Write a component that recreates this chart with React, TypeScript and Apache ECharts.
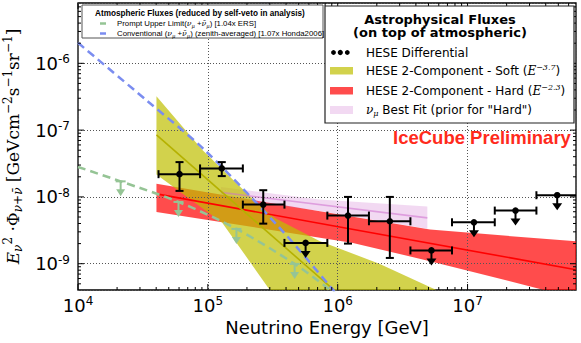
import React, { useEffect, useRef } from 'react';
import * as echarts from 'echarts';

// ---------- axis ranges & ticks ----------
const X_MIN = 1e4;
const X_MAX = 6.84e7;
const Y_MIN = 4.04e-10;
const Y_MAX = 8.0e-6;

const xDecadeTicks = [1e4, 1e5, 1e6, 1e7];
const xDecadeExp = ['4', '5', '6', '7'];
const yDecadeTicks = [1e-9, 1e-8, 1e-7, 1e-6];
const yDecadeExp = ['-9', '-8', '-7', '-6'];

// ---------- HESE differential points ----------
const binLow = [4.17e4, 8.71e4, 1.86e5, 3.89e5, 8.32e5, 1.74e6, 3.63e6, 7.59e6, 1.62e7, 3.39e7];
const binHigh = [8.71e4, 1.86e5, 3.89e5, 8.32e5, 1.74e6, 3.63e6, 7.59e6, 1.62e7, 3.39e7, 7.08e7];
const binCenter = [6.05e4, 1.28e5, 2.67e5, 5.66e5, 1.2e6, 2.52e6, 5.27e6, 1.12e7, 2.34e7, 4.9e7];
const flux = [2.19e-8, 2.67e-8, 7.67e-9, 2.05e-9, 5.25e-9, 4.32e-9, 1.58e-9, 4.17e-9, 6.24e-9, 1.06e-8];
const fluxHigh = [3.32e-8, 3.32e-8, 1.26e-8, null, 1.0e-8, 1.0e-8, null, null, null, null];
const fluxLow = [1.23e-8, 2.05e-8, 3.98e-9, null, 2.0e-9, 1.22e-9, null, null, null, null];
const isUpperLimit = [false, false, false, true, false, false, true, true, true, true];

// ---------- HESE 2-component soft (yellow) ----------
const softUpper = [[4.02e4, 3.21e-7], [9.12e4, 5.01e-8], [2.24e5, 9.12e-9], [3.31e5, 4.79e-9], [7.24e5, 2.19e-9], [2.09e6, 1.0e-9], [6.31e6, 3.72e-10], [1.26e7, 2.0e-10]];
const softLower = [[4.02e4, 2.16e-8], [1.29e5, 4.12e-9], [2.99e5, 4.07e-10], [3.98e5, 1.78e-10]];
const softBest = [[4.02e4, 8.51e-8], [1.0e6, 3.6e-10]];

// ---------- HESE 2-component hard (red) ----------
const hardUpper = [[4.02e4, 1.57e-8], [7.29e5, 6.08e-9], [5.14e6, 3.24e-9], [6.84e7, 2.16e-9]];
const hardLower = [[4.02e4, 5.97e-9], [1.31e6, 2.05e-9], [5.14e6, 1.09e-9], [3.81e7, 4.09e-10], [6.84e7, 3.16e-10]];
const hardBest = [[4.02e4, 1.11e-8], [6.84e7, 8.13e-10]];

// ---------- numu best fit (pink) ----------
const numuUpper = [[1.26e5, 1.41e-8], [7.24e5, 9.12e-9], [4.9e6, 7.16e-9]];
const numuLower = [[1.26e5, 9.55e-9], [7.24e5, 6.17e-9], [4.9e6, 3.35e-9]];
const numuBest = [[1.26e5, 1.17e-8], [4.9e6, 4.85e-9]];

// ---------- atmospheric ----------
const conventional = [[1.0e4, 2.03e-6], [3.35e4, 2.82e-7], [9.38e4, 5.1e-8], [3.57e5, 3.44e-9], [8.93e5, 4.35e-10], [1.26e6, 1.9e-10]];
const prompt = [[1.0e4, 2.81e-8], [2.13e4, 1.71e-8], [5.94e4, 8.41e-9], [1.66e5, 3.32e-9], [4.66e5, 9.93e-10], [8.67e5, 4.09e-10], [1.26e6, 2.24e-10]];
const promptLimitMarks = [[2.13e4, 1.71e-8], [5.94e4, 8.41e-9], [1.66e5, 3.32e-9], [4.66e5, 9.93e-10]];

// ---------- colours ----------
const YELLOW = 'rgba(191,191,0,0.7)';
const RED = 'rgba(255,0,0,0.7)';
const PINK = 'rgba(204,102,204,0.25)';
const GREEN = '#95c495';
const BLUE = '#7b8df0';

function minorTicks(lo: number, hi: number, k0: number, k1: number) {
  const out: number[] = [];
  for (let k = k0; k <= k1; k++) {
    for (let m = 1; m <= 9; m++) {
      const v = m * Math.pow(10, k);
      if (v > lo * 1.0001 && v < hi * 0.9999) out.push(v);
    }
  }
  return out;
}

function decadeLabel(ticks: number[], exps: string[]) {
  return (v: number) => {
    for (let i = 0; i < ticks.length; i++) {
      if (Math.abs(Math.log10(v / ticks[i])) < 1e-6) return `{b|10}{s|${exps[i]}}`;
    }
    return '';
  };
}

function bandSeries(upper: number[][], lower: number[][], fill: string, z: number) {
  return {
    type: 'custom',
    z,
    silent: true,
    clip: true,
    data: [upper[0]],
    renderItem: (_p: any, api: any) => {
      const pts = [
        ...upper.map((q) => api.coord(q)),
        ...lower.slice().reverse().map((q) => api.coord(q)),
      ];
      return { type: 'polygon', shape: { points: pts }, style: { fill } };
    },
  };
}

function lineSeries(data: number[][], color: string, width: number, z: number, dash?: number[], smooth = 0) {
  return {
    type: 'line',
    z,
    silent: true,
    data,
    symbol: 'none',
    smooth,
    lineStyle: { color, width, type: dash ? dash : 'solid' },
  };
}

const legRich = {
  n: { font: '12px "DejaVu Sans"', fill: '#000', lineHeight: 15 },
  i: { font: 'italic 12px "DejaVu Serif"', fill: '#000', lineHeight: 15 },
  s: { font: 'italic 8px "DejaVu Serif"', fill: '#000', lineHeight: 9, verticalAlign: 'top' },
  b: { font: 'italic 8px "DejaVu Serif"', fill: '#000', lineHeight: 9, verticalAlign: 'bottom' },
};
const leg1Rich = {
  n: { font: '7.8px "Liberation Sans"', fill: '#000', lineHeight: 10 },
  i: { font: 'italic 7.8px "DejaVu Serif"', fill: '#000', lineHeight: 10 },
  b: { font: 'italic 5.2px "DejaVu Serif"', fill: '#000', lineHeight: 6, verticalAlign: 'bottom' },
};

export default function App() {
  const ref = useRef<HTMLDivElement>(null);

  useEffect(() => {
    if (!ref.current) return;
    const chart = echarts.init(ref.current, undefined, { renderer: 'svg' });

    const xTickData = [
      ...xDecadeTicks.map((v) => [v, Y_MIN, 1]),
      ...minorTicks(X_MIN, X_MAX, 4, 7).filter((v) => !xDecadeTicks.includes(v)).map((v) => [v, Y_MIN, 0]),
    ];
    const yTickData = [
      ...yDecadeTicks.map((v) => [X_MIN, v, 1]),
      ...minorTicks(Y_MIN, Y_MAX, -10, -6).filter((v) => !yDecadeTicks.some((t) => Math.abs(v / t - 1) < 1e-6)).map((v) => [X_MIN, v, 0]),
    ];

    const pointData = binCenter.map((e, i) => [
      e, flux[i], binLow[i], binHigh[i],
      fluxHigh[i] == null ? NaN : fluxHigh[i],
      fluxLow[i] == null ? NaN : fluxLow[i],
      isUpperLimit[i] ? 1 : 0,
    ]);

    const axisLabelRich = {
      b: { fontSize: 18, fontFamily: 'DejaVu Sans', color: '#000', lineHeight: 20 },
      s: { fontSize: 12, fontFamily: 'DejaVu Sans', color: '#000', lineHeight: 8, verticalAlign: 'top' },
    };
    const gridLine = { show: true, lineStyle: { color: '#555', width: 1, type: [1, 2] } };

    const option: any = {
      animation: false,
      backgroundColor: '#fff',
      grid: {
        left: 78, right: 5, top: 3, bottom: 53,
        show: true, borderColor: '#000', borderWidth: 1.3,
        containLabel: false, outerBoundsMode: 'none',
      },
      xAxis: {
        type: 'log', logBase: 10, min: X_MIN, max: X_MAX, z: 3,
        axisLine: { show: false }, axisTick: { show: false },
        splitLine: gridLine,
        axisLabel: { formatter: decadeLabel(xDecadeTicks, xDecadeExp), rich: axisLabelRich, margin: 5, showMinLabel: true, showMaxLabel: false },
        name: 'Neutrino Energy [GeV]', nameLocation: 'middle', nameGap: 26,
        nameTextStyle: { fontSize: 18, fontFamily: 'DejaVu Sans', color: '#000' },
      },
      yAxis: {
        type: 'log', logBase: 10, min: Y_MIN, max: Y_MAX, z: 3,
        axisLine: { show: false }, axisTick: { show: false },
        splitLine: gridLine,
        axisLabel: { formatter: decadeLabel(yDecadeTicks, yDecadeExp), rich: axisLabelRich, margin: 8, showMinLabel: false, showMaxLabel: false },
        name: '{it|E}{sub|ν}{sup|2}{n| ·Φ}{sub|ν+ν̄}{n| [GeVcm}{sup|−2}{n|s}{sup|−1}{n|sr}{sup|−1}{n|]}',
        nameLocation: 'middle', nameGap: 46,
        nameTextStyle: {
          fontFamily: 'DejaVu Serif', fontSize: 17, color: '#000',
          rich: {
            it: { fontFamily: 'DejaVu Serif', fontStyle: 'italic', fontSize: 17, lineHeight: 22, color: '#000' },
            n: { fontFamily: 'DejaVu Serif', fontSize: 17, lineHeight: 22, color: '#000' },
            sub: { fontFamily: 'DejaVu Serif', fontStyle: 'italic', fontSize: 12, lineHeight: 10, verticalAlign: 'bottom', color: '#000' },
            sup: { fontFamily: 'DejaVu Serif', fontSize: 12, lineHeight: 10, verticalAlign: 'top', color: '#000' },
          },
        },
      },
      series: [
        bandSeries(hardUpper, hardLower, RED, 1),
        bandSeries(numuUpper, numuLower, PINK, 1),
        bandSeries(softUpper, softLower, YELLOW, 2),
        lineSeries(hardBest, '#ff0000', 1.6, 4),
        lineSeries(numuBest, 'rgba(205,110,205,0.55)', 1.6, 4),
        lineSeries(softBest, '#b5b100', 1.6, 4),
        lineSeries(conventional, BLUE, 2.5, 5, [8, 5], 0.3),
        lineSeries(prompt, GREEN, 2.5, 5, [8, 5], 0.3),
        {
          type: 'custom', z: 6, silent: true, clip: true,
          data: promptLimitMarks,
          renderItem: (_p: any, api: any) => {
            const p = api.coord([api.value(0), api.value(1)]);
            const st = { stroke: GREEN, lineWidth: 2 };
            return {
              type: 'group',
              children: [
                { type: 'line', shape: { x1: p[0] - 5, y1: p[1], x2: p[0] + 5, y2: p[1] }, style: st },
                { type: 'line', shape: { x1: p[0], y1: p[1], x2: p[0], y2: p[1] + 10 }, style: st },
                { type: 'polygon', shape: { points: [[p[0] - 4.5, p[1] + 8], [p[0] + 4.5, p[1] + 8], [p[0], p[1] + 15]] }, style: { fill: GREEN } },
              ],
            };
          },
        },
        {
          type: 'custom', z: 7, silent: true, clip: true,
          data: pointData,
          renderItem: (_p: any, api: any) => {
            const c = api.coord([api.value(0), api.value(1)]);
            const l = api.coord([api.value(2), api.value(1)]);
            const r = api.coord([api.value(3), api.value(1)]);
            const st = { stroke: '#000', lineWidth: 2 };
            const ch: any[] = [
              { type: 'line', shape: { x1: l[0], y1: c[1], x2: r[0], y2: c[1] }, style: st },
              { type: 'line', shape: { x1: l[0], y1: c[1] - 4, x2: l[0], y2: c[1] + 4 }, style: st },
              { type: 'line', shape: { x1: r[0], y1: c[1] - 4, x2: r[0], y2: c[1] + 4 }, style: st },
            ];
            if (api.value(6) === 1) {
              ch.push({ type: 'line', shape: { x1: c[0], y1: c[1], x2: c[0], y2: c[1] + 10 }, style: st });
              ch.push({ type: 'polygon', shape: { points: [[c[0] - 5, c[1] + 8], [c[0] + 5, c[1] + 8], [c[0], c[1] + 15]] }, style: { fill: '#000' } });
            } else {
              const hi = api.coord([api.value(0), api.value(4)]);
              const lo = api.coord([api.value(0), api.value(5)]);
              ch.push({ type: 'line', shape: { x1: c[0], y1: hi[1], x2: c[0], y2: lo[1] }, style: st });
              ch.push({ type: 'line', shape: { x1: c[0] - 4, y1: hi[1], x2: c[0] + 4, y2: hi[1] }, style: st });
              ch.push({ type: 'line', shape: { x1: c[0] - 4, y1: lo[1], x2: c[0] + 4, y2: lo[1] }, style: st });
            }
            ch.push({ type: 'circle', shape: { cx: c[0], cy: c[1], r: 3.3 }, style: { fill: '#000' } });
            return { type: 'group', children: ch };
          },
        },
        {
          type: 'custom', z: 8, silent: true, clip: false,
          data: xTickData,
          renderItem: (params: any, api: any) => {
            const cs = params.coordSys;
            const p = api.coord([api.value(0), api.value(1)]);
            const len = api.value(2) === 1 ? 6 : 3;
            const st = { stroke: '#000', lineWidth: 1 };
            const b = cs.y + cs.height;
            return {
              type: 'group',
              children: [
                { type: 'line', shape: { x1: p[0], y1: b, x2: p[0], y2: b - len }, style: st },
                { type: 'line', shape: { x1: p[0], y1: cs.y, x2: p[0], y2: cs.y + len }, style: st },
              ],
            };
          },
        },
        {
          type: 'custom', z: 8, silent: true, clip: false,
          data: yTickData,
          renderItem: (params: any, api: any) => {
            const cs = params.coordSys;
            const p = api.coord([api.value(0), api.value(1)]);
            const len = api.value(2) === 1 ? 6 : 3;
            const st = { stroke: '#000', lineWidth: 1 };
            const rgt = cs.x + cs.width;
            return {
              type: 'group',
              children: [
                { type: 'line', shape: { x1: cs.x, y1: p[1], x2: cs.x + len, y2: p[1] }, style: st },
                { type: 'line', shape: { x1: rgt, y1: p[1], x2: rgt - len, y2: p[1] }, style: st },
              ],
            };
          },
        },
      ],
      graphic: [
        // legend 1: atmospheric fluxes
        { type: 'rect', z: 100, shape: { x: 82, y: 5, width: 241, height: 33 }, style: { fill: '#fff', stroke: '#555', lineWidth: 1 } },
        { type: 'text', z: 101, style: { x: 95, y: 13, text: 'Atmospheric Fluxes (reduced by self-veto in analysis)', font: 'bold 8.2px "Liberation Sans"', fill: '#000', verticalAlign: 'middle' } },
        { type: 'line', z: 101, shape: { x1: 100, y1: 23.5, x2: 106, y2: 23.5 }, style: { stroke: GREEN, lineWidth: 2.5 } },
        {
          type: 'text', z: 101,
          style: {
            x: 117, y: 23.5, verticalAlign: 'middle', fill: '#000',
            text: '{n|Prompt Upper Limit(}{i|ν}{b|μ}{n| +}{i|ν̄}{b|μ}{n|) [1.04x ERS]}',
            rich: leg1Rich,
          },
        },
        { type: 'line', z: 101, shape: { x1: 100, y1: 33.5, x2: 106, y2: 33.5 }, style: { stroke: BLUE, lineWidth: 2.5 } },
        {
          type: 'text', z: 101,
          style: {
            x: 117, y: 33.5, verticalAlign: 'middle', fill: '#000',
            text: '{n|Conventional (}{i|ν}{b|μ}{n| +}{i|ν̄}{b|μ}{n|) (zenith-averaged) [1.07x Honda2006]}',
            rich: leg1Rich,
          },
        },
        // legend 2: astrophysical fluxes
        { type: 'rect', z: 100, shape: { x: 325, y: 6, width: 249, height: 117 }, style: { fill: '#fff', stroke: '#222', lineWidth: 1.2 } },
        { type: 'text', z: 101, style: { x: 440, y: 26, text: 'Astrophysical Fluxes\n(on top of atmospheric)', font: 'bold 13px "DejaVu Sans"', lineHeight: 13.5, fill: '#000', align: 'center', verticalAlign: 'middle' } },
        { type: 'circle', z: 101, shape: { cx: 333.5, cy: 52.5, r: 2.4 }, style: { fill: '#000' } },
        { type: 'circle', z: 101, shape: { cx: 340.3, cy: 52.5, r: 2.6 }, style: { fill: '#000' } },
        { type: 'circle', z: 101, shape: { cx: 347.3, cy: 52.5, r: 2.4 }, style: { fill: '#000' } },
        { type: 'text', z: 101, style: { x: 366, y: 52.5, text: 'HESE Differential', font: '12px "DejaVu Sans"', fill: '#000', verticalAlign: 'middle' } },
        { type: 'rect', z: 101, shape: { x: 330, y: 67, width: 23, height: 7.5 }, style: { fill: YELLOW } },
        {
          type: 'text', z: 101,
          style: { x: 366, y: 71, verticalAlign: 'middle', fill: '#000', text: '{n|HESE 2-Component - Soft (}{i|E}{s|−3.7}{n|)}', rich: legRich },
        },
        { type: 'rect', z: 101, shape: { x: 330, y: 87, width: 23, height: 7.5 }, style: { fill: RED } },
        {
          type: 'text', z: 101,
          style: { x: 366, y: 91, verticalAlign: 'middle', fill: '#000', text: '{n|HESE 2-Component - Hard (}{i|E}{s|−2.3}{n|)}', rich: legRich },
        },
        { type: 'rect', z: 101, shape: { x: 330, y: 106, width: 23, height: 8 }, style: { fill: PINK } },
        {
          type: 'text', z: 101,
          style: { x: 366, y: 110, verticalAlign: 'middle', fill: '#000', text: '{i|ν}{b|μ}{n| Best Fit (prior for "Hard")}', rich: legRich },
        },
        { type: 'text', z: 101, style: { x: 393, y: 137.5, text: 'IceCube Preliminary', font: 'bold 18.5px "Liberation Sans"', fill: '#ff2b1c', verticalAlign: 'middle' } },
      ],
    };

    chart.setOption(option);
    return () => chart.dispose();
  }, []);

  return <div ref={ref} style={{ position: 'absolute', left: 0, top: 0, width: 581, height: 343 }} />;
}
